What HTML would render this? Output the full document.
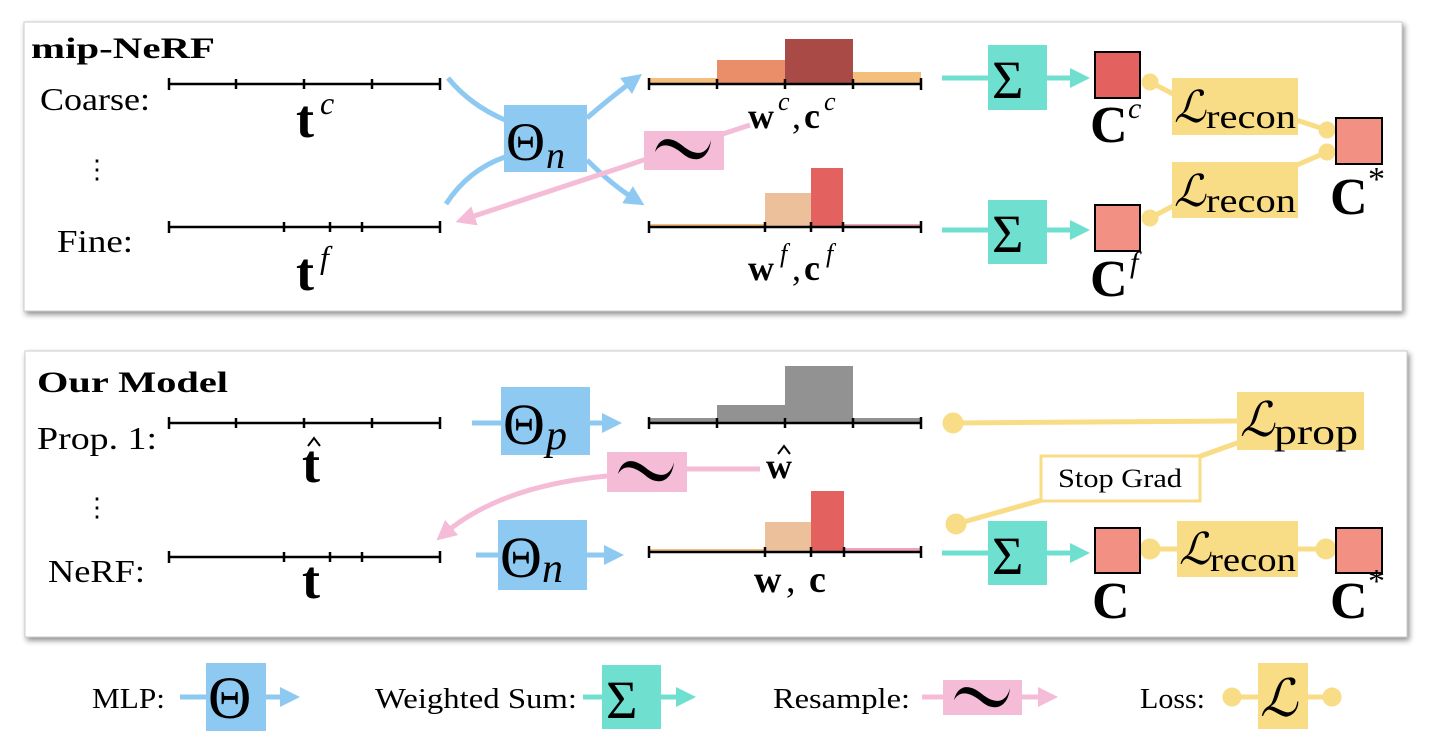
<!DOCTYPE html>
<html><head><meta charset="utf-8"><style>
html,body{margin:0;padding:0;background:#fff;}
svg{display:block;}
text{font-family:"Liberation Serif","DejaVu Serif",serif;fill:#000;}
.b{font-weight:bold;}
.it{font-style:italic;}
</style></head><body>
<svg width="1437" height="753" viewBox="0 0 1437 753" xmlns="http://www.w3.org/2000/svg">
<defs>
<filter id="sh" x="-5%" y="-5%" width="110%" height="120%"><feDropShadow dx="2" dy="3" stdDeviation="3" flood-color="#000" flood-opacity="0.45"/></filter>
<marker id="ab" viewBox="0 0 10 10" refX="5" refY="5" markerWidth="4" markerHeight="4" orient="auto"><path d="M0,0L10,5L0,10z" fill="#8ec9f2"/></marker>
<marker id="ap" viewBox="0 0 10 10" refX="5" refY="5" markerWidth="4" markerHeight="4" orient="auto"><path d="M0,0L10,5L0,10z" fill="#f5bcd8"/></marker>
<marker id="at" viewBox="0 0 10 10" refX="5" refY="5" markerWidth="4" markerHeight="4" orient="auto"><path d="M0,0L10,5L0,10z" fill="#6fe0cf"/></marker>
<path id="tl" d="M0,12 C4,-4 16,-4 28,6 C40,16 52,16 56,0 C54,20 40,24 28,14 C16,4 6,2 0,12z" fill="#000"/>
<path id="hat" d="M0,8 L6,0 L12,8" fill="none" stroke="#000" stroke-width="2"/>
</defs>
<rect x="24" y="22" width="1378" height="289" fill="#fff" stroke="#ccc" stroke-width="1" filter="url(#sh)"/>
<rect x="25" y="351" width="1382" height="286" fill="#fff" stroke="#ccc" stroke-width="1" filter="url(#sh)"/>

<!-- TOP PANEL -->
<text x="31" y="58" font-size="30" class="b" textLength="184" lengthAdjust="spacingAndGlyphs">mip-NeRF</text>
<text x="40" y="110" font-size="32" textLength="110" lengthAdjust="spacingAndGlyphs">Coarse:</text>
<text x="84" y="178" font-size="26">⋮</text>
<text x="57" y="252" font-size="32" textLength="76" lengthAdjust="spacingAndGlyphs">Fine:</text>
<g stroke="#000" stroke-width="2.5">
<line x1="169" y1="84" x2="440" y2="84"/>
<line x1="169" y1="78" x2="169" y2="90"/><line x1="236" y1="79" x2="236" y2="89"/><line x1="304" y1="79" x2="304" y2="89"/><line x1="372" y1="79" x2="372" y2="89"/><line x1="440" y1="78" x2="440" y2="90"/>
<line x1="169" y1="227" x2="440" y2="227"/>
<line x1="169" y1="221" x2="169" y2="233"/><line x1="284" y1="222" x2="284" y2="232"/><line x1="330" y1="222" x2="330" y2="232"/><line x1="362" y1="222" x2="362" y2="232"/><line x1="440" y1="221" x2="440" y2="233"/>
</g>
<text x="296" y="137" font-size="54" class="b">t</text><text x="320" y="114" font-size="32" class="it">c</text>
<text x="296" y="290" font-size="54" class="b">t</text><text x="320" y="268" font-size="32" class="it">f</text>

<g fill="none" stroke="#8ec9f2" stroke-width="5">
<path d="M448,78 Q470,105 505,120" />
<path d="M587,118 Q610,98 634,80" marker-end="url(#ab)"/>
<path d="M446,204 Q468,170 505,157"/>
<path d="M587,160 Q612,185 636,200" marker-end="url(#ab)"/>
</g>
<path d="M750,125 L465,219" stroke="#f5bcd8" stroke-width="5" fill="none" marker-end="url(#ap)"/>
<rect x="504" y="105" width="83" height="67" fill="#8ec9f2"/>
<text x="506" y="160" font-size="54">Θ</text><text x="546" y="168" font-size="38" class="it">n</text>
<rect x="644" y="131" width="80" height="39" fill="#f5bcd8"/>
<use href="#tl" x="655" y="140"/>

<!-- histograms top -->
<rect x="649" y="78" width="68" height="6" fill="#f4be7c"/>
<rect x="717" y="60" width="68" height="24" fill="#e98e69"/>
<rect x="785" y="39" width="68" height="45" fill="#a94a47"/>
<rect x="853" y="72" width="68" height="12" fill="#f4be7c"/>
<g stroke="#000" stroke-width="2.5">
<line x1="649" y1="84" x2="921" y2="84"/>
<line x1="649" y1="78" x2="649" y2="90"/><line x1="717" y1="79" x2="717" y2="89"/><line x1="785" y1="79" x2="785" y2="89"/><line x1="853" y1="79" x2="853" y2="89"/><line x1="921" y1="78" x2="921" y2="90"/>
</g>
<text x="748" y="128" font-size="36" class="b">w</text><text x="778" y="110" font-size="26" class="it">c</text><text x="792" y="128" font-size="36">,</text><text x="804" y="128" font-size="36" class="b">c</text><text x="824" y="110" font-size="26" class="it">c</text>

<rect x="649" y="224" width="116" height="3" fill="#f4be7c"/>
<rect x="765" y="193" width="46" height="34" fill="#ecc09b"/>
<rect x="811" y="168" width="32" height="59" fill="#e3625f"/>
<rect x="843" y="224" width="78" height="3" fill="#eea2c0"/>
<g stroke="#000" stroke-width="2.5">
<line x1="649" y1="227" x2="921" y2="227"/>
<line x1="649" y1="221" x2="649" y2="233"/><line x1="765" y1="222" x2="765" y2="232"/><line x1="811" y1="222" x2="811" y2="232"/><line x1="843" y1="222" x2="843" y2="232"/><line x1="921" y1="221" x2="921" y2="233"/>
</g>
<text x="748" y="280" font-size="36" class="b">w</text><text x="780" y="262" font-size="26" class="it">f</text><text x="792" y="280" font-size="36">,</text><text x="804" y="280" font-size="36" class="b">c</text><text x="826" y="262" font-size="26" class="it">f</text>

<!-- sums top -->
<g stroke="#6fe0cf" stroke-width="5">
<line x1="942" y1="78" x2="990" y2="78"/><line x1="1045" y1="78" x2="1080" y2="78" marker-end="url(#at)"/>
<line x1="942" y1="230" x2="990" y2="230"/><line x1="1045" y1="230" x2="1080" y2="230" marker-end="url(#at)"/>
</g>
<rect x="988" y="45" width="59" height="65" fill="#6fe0cf"/><text x="992" y="98" font-size="54">Σ</text>
<rect x="988" y="200" width="59" height="64" fill="#6fe0cf"/><text x="992" y="252" font-size="54">Σ</text>
<rect x="1095" y="52" width="45" height="46" fill="#e3625f" stroke="#000" stroke-width="2"/>
<rect x="1095" y="205" width="45" height="46" fill="#f29083" stroke="#000" stroke-width="2"/>
<text x="1090" y="142" font-size="52" class="b">C</text><text x="1128" y="118" font-size="30" class="it">c</text>
<text x="1090" y="296" font-size="52" class="b">C</text><text x="1130" y="272" font-size="30" class="it">f</text>

<g stroke="#f9dc86" stroke-width="5" fill="#f9dc86">
<line x1="1150" y1="82" x2="1175" y2="95"/>
<line x1="1290" y1="118" x2="1327" y2="130"/>
<line x1="1290" y1="168" x2="1327" y2="152"/>
<line x1="1150" y1="218" x2="1175" y2="205"/>
<circle cx="1150" cy="82" r="6"/><circle cx="1327" cy="130" r="6"/><circle cx="1327" cy="152" r="6"/><circle cx="1150" cy="218" r="6"/>
</g>
<rect x="1172" y="78" width="126" height="57" fill="#f9dc86"/>
<text x="1174" y="122" font-size="44" class="it">ℒ</text><text x="1206" y="128" font-size="34" textLength="90" lengthAdjust="spacingAndGlyphs">recon</text>
<rect x="1172" y="162" width="126" height="56" fill="#f9dc86"/>
<text x="1174" y="206" font-size="44" class="it">ℒ</text><text x="1206" y="212" font-size="34" textLength="90" lengthAdjust="spacingAndGlyphs">recon</text>
<rect x="1336" y="118" width="46" height="46" fill="#f29083" stroke="#000" stroke-width="2"/>
<text x="1330" y="214" font-size="52" class="b">C</text><text x="1368" y="190" font-size="34">*</text>

<!-- BOTTOM PANEL -->
<text x="37" y="392" font-size="30" class="b" textLength="191" lengthAdjust="spacingAndGlyphs">Our Model</text>
<text x="37" y="449" font-size="32" textLength="120" lengthAdjust="spacingAndGlyphs">Prop. 1:</text>
<text x="84" y="516" font-size="26">⋮</text>
<text x="48" y="582" font-size="32" textLength="97" lengthAdjust="spacingAndGlyphs">NeRF:</text>
<g stroke="#000" stroke-width="2.5">
<line x1="169" y1="423" x2="440" y2="423"/>
<line x1="169" y1="417" x2="169" y2="429"/><line x1="236" y1="418" x2="236" y2="428"/><line x1="304" y1="418" x2="304" y2="428"/><line x1="372" y1="418" x2="372" y2="428"/><line x1="440" y1="417" x2="440" y2="429"/>
<line x1="169" y1="557" x2="440" y2="557"/>
<line x1="169" y1="551" x2="169" y2="563"/><line x1="284" y1="552" x2="284" y2="562"/><line x1="330" y1="552" x2="330" y2="562"/><line x1="362" y1="552" x2="362" y2="562"/><line x1="440" y1="551" x2="440" y2="563"/>
</g>
<text x="302" y="482" font-size="54" class="b">t</text><use href="#hat" x="308" y="438"/>
<text x="302" y="598" font-size="54" class="b">t</text>

<g stroke="#8ec9f2" stroke-width="5">
<line x1="472" y1="423" x2="502" y2="423"/><line x1="588" y1="423" x2="612" y2="423" marker-end="url(#ab)"/>
<line x1="476" y1="555" x2="500" y2="555"/><line x1="586" y1="555" x2="614" y2="555" marker-end="url(#ab)"/>
</g>
<rect x="501" y="387" width="89" height="68" fill="#8ec9f2"/>
<text x="503" y="444" font-size="58">Θ</text><text x="546" y="449" font-size="42" class="it">p</text>
<rect x="498" y="520" width="89" height="70" fill="#8ec9f2"/>
<text x="500" y="577" font-size="58">Θ</text><text x="542" y="582" font-size="42" class="it">n</text>
<path d="M760,469 L687,469" stroke="#f5bcd8" stroke-width="5"/>
<path d="M607,476 Q500,486 444,534" stroke="#f5bcd8" stroke-width="5" fill="none" marker-end="url(#ap)"/>
<rect x="607" y="452" width="80" height="40" fill="#f5bcd8"/>
<use href="#tl" x="618" y="462"/>

<rect x="649" y="418" width="68" height="5" fill="#929292"/>
<rect x="717" y="405" width="68" height="18" fill="#929292"/>
<rect x="785" y="366" width="68" height="57" fill="#929292"/>
<rect x="853" y="418" width="68" height="5" fill="#929292"/>
<g stroke="#000" stroke-width="2.5">
<line x1="649" y1="423" x2="921" y2="423"/>
<line x1="649" y1="417" x2="649" y2="429"/><line x1="717" y1="418" x2="717" y2="428"/><line x1="785" y1="418" x2="785" y2="428"/><line x1="853" y1="418" x2="853" y2="428"/><line x1="921" y1="417" x2="921" y2="429"/>
</g>
<text x="766" y="478" font-size="36" class="b">w</text><use href="#hat" x="778" y="446"/>

<rect x="649" y="549" width="116" height="3" fill="#f4be7c"/>
<rect x="765" y="522" width="46" height="30" fill="#ecc09b"/>
<rect x="811" y="491" width="33" height="61" fill="#e3625f"/>
<rect x="844" y="548" width="77" height="4" fill="#eea2c0"/>
<g stroke="#000" stroke-width="2.5">
<line x1="649" y1="552" x2="921" y2="552"/>
<line x1="649" y1="546" x2="649" y2="558"/><line x1="765" y1="547" x2="765" y2="557"/><line x1="811" y1="547" x2="811" y2="557"/><line x1="844" y1="547" x2="844" y2="557"/><line x1="921" y1="546" x2="921" y2="558"/>
</g>
<text x="754" y="592" font-size="38" class="b">w</text><text x="786" y="592" font-size="38">,</text><text x="809" y="592" font-size="38" class="b">c</text>

<g stroke="#f9dc86" stroke-width="5" fill="#f9dc86">
<line x1="953" y1="423" x2="1240" y2="421"/>
<circle cx="953" cy="423" r="8"/>
<line x1="956" y1="524" x2="1042" y2="500"/>
<circle cx="956" cy="524" r="8"/>
<line x1="1198" y1="457" x2="1240" y2="442"/>
<line x1="1150" y1="549" x2="1330" y2="549"/>
<circle cx="1150" cy="549" r="8"/><circle cx="1326" cy="549" r="8"/>
</g>
<rect x="1237" y="392" width="127" height="58" fill="#f9dc86"/>
<text x="1240" y="436" font-size="48" class="it">ℒ</text><text x="1274" y="444" font-size="36" textLength="84" lengthAdjust="spacingAndGlyphs">prop</text>
<rect x="1041" y="456" width="159" height="45" fill="#fff" stroke="#f9dc86" stroke-width="3"/>
<text x="1058" y="487" font-size="26" textLength="124" lengthAdjust="spacingAndGlyphs">Stop Grad</text>

<g stroke="#6fe0cf" stroke-width="5">
<line x1="942" y1="553" x2="990" y2="553"/><line x1="1045" y1="553" x2="1080" y2="553" marker-end="url(#at)"/>
</g>
<rect x="988" y="521" width="59" height="64" fill="#6fe0cf"/><text x="992" y="574" font-size="54">Σ</text>
<rect x="1095" y="528" width="45" height="45" fill="#f29083" stroke="#000" stroke-width="2"/>
<rect x="1177" y="521" width="121" height="56" fill="#f9dc86"/>
<text x="1179" y="564" font-size="44" class="it">ℒ</text><text x="1210" y="571" font-size="34" textLength="86" lengthAdjust="spacingAndGlyphs">recon</text>
<rect x="1336" y="528" width="46" height="45" fill="#f29083" stroke="#000" stroke-width="2"/>
<text x="1092" y="618" font-size="52" class="b">C</text>
<text x="1330" y="618" font-size="52" class="b">C</text><text x="1368" y="592" font-size="34">*</text>

<!-- LEGEND -->
<text x="92" y="708" font-size="28" textLength="73" lengthAdjust="spacingAndGlyphs">MLP:</text>
<g stroke="#8ec9f2" stroke-width="5"><line x1="180" y1="697" x2="207" y2="697"/><line x1="265" y1="697" x2="290" y2="697" marker-end="url(#ab)"/></g>
<rect x="206" y="663" width="60" height="68" fill="#8ec9f2"/><text x="208" y="718" font-size="60">Θ</text>
<text x="375" y="708" font-size="28" textLength="202" lengthAdjust="spacingAndGlyphs">Weighted Sum:</text>
<g stroke="#6fe0cf" stroke-width="5"><line x1="583" y1="697" x2="603" y2="697"/><line x1="660" y1="697" x2="686" y2="697" marker-end="url(#at)"/></g>
<rect x="602" y="665" width="59" height="64" fill="#6fe0cf"/><text x="606" y="718" font-size="54">Σ</text>
<text x="773" y="708" font-size="28" textLength="137" lengthAdjust="spacingAndGlyphs">Resample:</text>
<g stroke="#f5bcd8" stroke-width="5"><line x1="922" y1="697" x2="944" y2="697"/><line x1="1020" y1="697" x2="1048" y2="697" marker-end="url(#ap)"/></g>
<rect x="943" y="680" width="79" height="35" fill="#f5bcd8"/><use href="#tl" x="954" y="688"/>
<text x="1140" y="708" font-size="28" textLength="65" lengthAdjust="spacingAndGlyphs">Loss:</text>
<g stroke="#f9dc86" stroke-width="5" fill="#f9dc86"><line x1="1232" y1="697" x2="1332" y2="697"/><circle cx="1232" cy="697" r="7"/><circle cx="1332" cy="697" r="7"/></g>
<rect x="1258" y="663" width="50" height="66" fill="#f9dc86"/><text x="1260" y="716" font-size="52" class="it">ℒ</text>
</svg>
</body></html>
